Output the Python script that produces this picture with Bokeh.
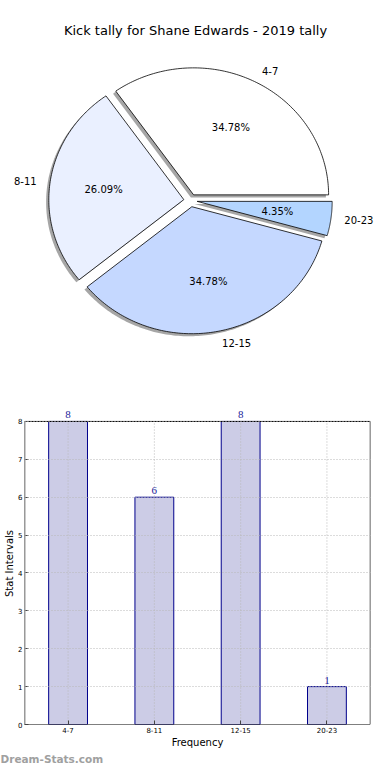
import numpy as np
from bokeh.plotting import figure
from bokeh.models import Range1d, Label, LabelSet, ColumnDataSource, FixedTicker, Title
from bokeh.embed import file_html
from bokeh.resources import INLINE

# ---------------- data ----------------
title_text = "Kick tally for Shane Edwards - 2019 tally"
categories = ["4-7", "8-11", "12-15", "20-23"]
counts = [8, 6, 8, 1]
pie_colors = ["#FFFFFF", "#EAF0FF", "#C5D8FF", "#B3D5FF"]
y_ticks = [0, 1, 2, 3, 4, 5, 6, 7, 8]
x_label = "Frequency"
y_label = "Stat Intervals"
watermark = "Dream-Stats.com"

FONT = "DejaVu Sans"

# ---------------- pie ----------------
RX, RY = 135.0, 127.0   # pixels per data unit (non-equal aspect, as in the original)
CX, CY = 190.0, 200.0   # pie centre, pixels from the figure's top-left
W1, H1 = 374, 384
pie = figure(width=W1, height=H1,
             x_range=Range1d(-CX / RX, (W1 - CX) / RX),
             y_range=Range1d((CY - H1) / RY, CY / RY),
             x_axis_type=None, y_axis_type=None, output_backend="svg",
             toolbar_location=None, min_border=0)
pie.grid.visible = False
pie.outline_line_color = None

vals = np.array(counts, dtype=float)
frac = vals / vals.sum()
bounds = np.concatenate([[0.0], np.cumsum(frac)]) * 2 * np.pi
explode = 0.05
shadow_off = -0.02

wx, wy, sx, sy = [], [], [], []
lab_x, lab_y, lab_align = [], [], []
pct_x, pct_y, pct_t = [], [], []
for i in range(len(vals)):
    t = np.linspace(bounds[i], bounds[i + 1], 120)
    mid = 0.5 * (bounds[i] + bounds[i + 1])
    ox, oy = explode * np.cos(mid), explode * np.sin(mid)
    px = np.concatenate([[ox], ox + np.cos(t)])
    py = np.concatenate([[oy], oy + np.sin(t)])
    wx.append(px.tolist()); wy.append(py.tolist())
    sx.append((px + shadow_off).tolist()); sy.append((py + shadow_off).tolist())
    lx = ox + 1.1 * np.cos(mid)
    ly = oy + 1.1 * np.sin(mid)
    lab_x.append(lx); lab_y.append(ly)
    lab_align.append("left" if lx > 0 else "right")
    pct_x.append(ox + 0.6 * np.cos(mid)); pct_y.append(oy + 0.6 * np.sin(mid))
    pct_t.append("%.2f%%" % (frac[i] * 100))

pie.patches(sx, sy, fill_color="#4d4d4d", fill_alpha=0.5, line_color=None)
pie.patches(wx, wy, fill_color=pie_colors, line_color="black", line_width=0.8)

lab_src = ColumnDataSource(dict(x=lab_x, y=lab_y, text=categories, align=lab_align))
pie.text(x="x", y="y", text="text", text_align="align", text_baseline="middle",
         text_font_size="10px", text_font={"value": FONT}, text_color="black", source=lab_src)
pct_src = ColumnDataSource(dict(x=pct_x, y=pct_y, text=pct_t))
pie.text(x="x", y="y", text="text", text_align="center", text_baseline="middle",
         text_font_size="10px", text_font={"value": FONT}, text_color="black", source=pct_src)

pie.add_layout(Label(x=(195 - CX) / RX, y=(CY - 30) / RY, text=title_text,
                     text_align="center", text_baseline="middle",
                     text_font_size="13px", text_font=FONT, text_color="black"))

# ---------------- bars ----------------
W2, H2 = 374, 380
LB = 24
xpos = list(range(len(categories)))
ymax = max(y_ticks)
pad = 0.005
bar = figure(width=W2, height=H2,
             x_range=Range1d(-0.5 - pad, len(categories) - 0.5 + pad),
             y_range=Range1d(0, ymax * 1.0625),
             output_backend="svg", toolbar_location=None,
             min_border_left=LB, min_border_right=4, min_border_top=18, min_border_bottom=0)
bar.outline_line_color = None

bar.vbar(x=xpos, top=counts, width=0.45, fill_color="#CCCCE6",
         line_color="#00008B", line_width=1)

# grid (drawn over the bars, as in the original)
bar.xgrid.visible = False
bar.ygrid.ticker = FixedTicker(ticks=y_ticks)
bar.ygrid.grid_line_color = "#b8b8b8"
bar.ygrid.grid_line_dash = "1 2"
bar.ygrid.level = "overlay"
bar.segment(x0=xpos, y0=[0] * len(xpos), x1=xpos, y1=[ymax] * len(xpos),
            line_color="#b8b8b8", line_dash="1 2", line_width=1)

# axes box up to the top tick
bar.quad(left=[-0.5 - pad / 2], right=[len(categories) - 0.5 + pad / 2], bottom=[0], top=[ymax],
         fill_color=None, line_color="black", line_width=1)

bar.yaxis.ticker = FixedTicker(ticks=y_ticks)
bar.xaxis.ticker = FixedTicker(ticks=xpos)
bar.xaxis.major_label_overrides = {i: c for i, c in zip(xpos, categories)}
for ax in (bar.xaxis[0], bar.yaxis[0]):
    ax.axis_line_color = None
    ax.major_tick_in = 4
    ax.major_tick_out = 0
    ax.major_tick_line_color = "#444444"
    ax.minor_tick_line_color = None
    ax.major_label_text_font_size = "7px"
    ax.major_label_text_font = FONT
    ax.major_label_text_color = "black"
    ax.major_label_standoff = 2
    ax.axis_label_text_font_size = "10px"
    ax.axis_label_text_font = FONT
    ax.axis_label_text_font_style = "normal"
    ax.axis_label_text_color = "black"
    ax.axis_label_standoff = 1
bar.yaxis.axis_label_standoff = 0
bar.xaxis.axis_label = x_label
bar.yaxis.axis_label = y_label

bsrc = ColumnDataSource(dict(x=xpos, y=counts, text=[str(c) for c in counts]))
bar.add_layout(LabelSet(x="x", y="y", text="text", source=bsrc, text_align="center",
                        text_baseline="bottom", y_offset=3, text_font_size="11px",
                        text_font=FONT, text_color="#1c1c9a"))

bar.add_layout(Title(text=watermark, align="left", offset=-LB, standoff=0,
                     text_font_size="10.5px", text_font=FONT, text_font_style="bold",
                     text_color="#a0a0a0"), "below")

open("out.html", "w").write(file_html([pie, bar], INLINE))
